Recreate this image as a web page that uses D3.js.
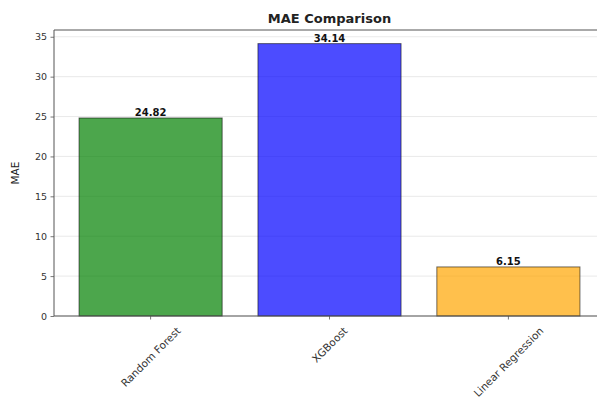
<!DOCTYPE html>
<html>
<head>
<meta charset="utf-8">
<script src="https://cdn.jsdelivr.net/npm/d3@7"></script>
<style>
  html, body { margin: 0; padding: 0; background: #fff; }
  svg { display: block; font-family: "DejaVu Sans", sans-serif; }
</style>
</head>
<body>
<svg id="chart" width="597" height="401"></svg>
<script>
// Model names and their mean absolute error
const models = ["Random Forest", "XGBoost", "Linear Regression"];
const maeValues = [24.82, 34.14, 6.15];
const barColors = ["green", "blue", "orange"];
const yTicks = [0, 5, 10, 15, 20, 25, 30, 35];

const svg = d3.select("#chart");
const plot = { left: 54, right: 605, top: 30, bottom: 316 };

const x = d3.scaleBand()
  .domain(models)
  .range([plot.left, plot.right])
  .paddingInner(0.2)
  .paddingOuter(0.14);

const y = d3.scaleLinear()
  .domain([0, d3.max(maeValues) * 1.05])
  .range([plot.bottom, plot.top]);

// horizontal grid
svg.append("g")
  .selectAll("line")
  .data(yTicks)
  .join("line")
  .attr("x1", plot.left).attr("x2", plot.right)
  .attr("y1", d => y(d)).attr("y2", d => y(d))
  .attr("stroke", "#b0b0b0")
  .attr("stroke-opacity", 0.35)
  .attr("stroke-width", 0.8);

// bars
svg.append("g")
  .selectAll("rect")
  .data(models)
  .join("rect")
  .attr("x", d => x(d))
  .attr("width", x.bandwidth())
  .attr("y", (d, i) => y(maeValues[i]))
  .attr("height", (d, i) => y(0) - y(maeValues[i]))
  .attr("fill", (d, i) => barColors[i])
  .attr("fill-opacity", 0.7)
  .attr("stroke", "black")
  .attr("stroke-opacity", 0.55)
  .attr("stroke-width", 1);

// value labels
svg.append("g")
  .selectAll("text")
  .data(models)
  .join("text")
  .attr("x", d => x(d) + x.bandwidth() / 2)
  .attr("y", (d, i) => y(maeValues[i]) - 2)
  .attr("text-anchor", "middle")
  .attr("font-size", 10)
  .attr("font-weight", "bold")
  .attr("fill", "#111")
  .text((d, i) => maeValues[i].toFixed(2));

// y axis
const yAxis = svg.append("g")
  .attr("transform", `translate(${plot.left},0)`)
  .call(d3.axisLeft(y).tickValues(yTicks).tickSize(3.5).tickPadding(3.5));
yAxis.select(".domain").remove();
yAxis.selectAll(".tick line").attr("stroke", "#555").attr("stroke-width", 0.8);
yAxis.selectAll(".tick text")
  .attr("font-size", 9.5)
  .attr("font-family", "DejaVu Sans, sans-serif")
  .attr("fill", "#333");

// x axis
const xFont = 10.5;
const xAxis = svg.append("g")
  .attr("transform", `translate(0,${plot.bottom})`)
  .call(d3.axisBottom(x).tickSize(3.5).tickPadding(3.5));
xAxis.select(".domain").remove();
xAxis.selectAll(".tick line").attr("stroke", "#555").attr("stroke-width", 0.8);
xAxis.selectAll(".tick text")
  .attr("font-size", xFont)
  .attr("font-family", "DejaVu Sans, sans-serif")
  .attr("fill", "#333")
  .attr("dy", null)
  .attr("text-anchor", "middle")
  .attr("dominant-baseline", "central")
  .each(function () {
    // centre the rotated label's box under its tick
    const len = this.getComputedTextLength();
    const half = (len + xFont) / (2 * Math.SQRT2);
    d3.select(this)
      .attr("y", null)
      .attr("transform", `translate(0,${9 + half}) rotate(-45)`);
  });

// spines
const spine = svg.append("g").attr("stroke", "#555").attr("stroke-width", 1).attr("fill", "none");
spine.append("line").attr("x1", plot.left).attr("x2", plot.left).attr("y1", plot.top).attr("y2", plot.bottom);
spine.append("line").attr("x1", plot.left).attr("x2", plot.right).attr("y1", plot.bottom).attr("y2", plot.bottom);
spine.append("line").attr("x1", plot.left).attr("x2", plot.right).attr("y1", plot.top).attr("y2", plot.top);
spine.append("line").attr("x1", plot.right).attr("x2", plot.right).attr("y1", plot.top).attr("y2", plot.bottom);

// y label
svg.append("text")
  .attr("transform", `translate(19,${(plot.top + plot.bottom) / 2}) rotate(-90)`)
  .attr("text-anchor", "middle")
  .attr("font-size", 10.5)
  .attr("fill", "#222")
  .text("MAE");

// title
svg.append("text")
  .attr("x", (plot.left + plot.right) / 2)
  .attr("y", 23)
  .attr("text-anchor", "middle")
  .attr("font-size", 13)
  .attr("font-weight", "bold")
  .attr("fill", "#222")
  .text("MAE Comparison");
</script>
</body>
</html>
